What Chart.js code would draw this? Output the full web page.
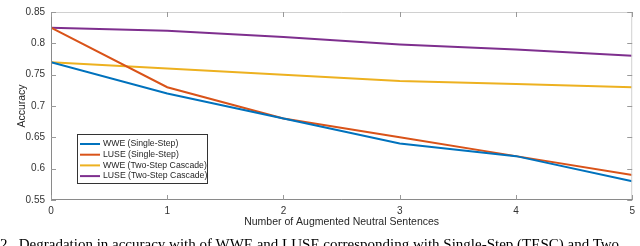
<!DOCTYPE html>
<html>
<head>
<meta charset="utf-8">
<script src="https://cdn.jsdelivr.net/npm/chart.js@4.4.1/dist/chart.umd.min.js"></script>
<style>
  html, body { margin: 0; padding: 0; background: #fff; overflow: hidden; }
  #wrap { position: relative; width: 640px; height: 246px; overflow: hidden; }
  #caption {
    position: absolute; left: 0; top: 236px; width: 640px; white-space: nowrap;
    font-family: "Liberation Serif", serif; font-size: 15px; line-height: 17px; color: #000;
  }
</style>
</head>
<body>
<div id="wrap">
  <canvas id="chart" width="640" height="246"></canvas>
  <div id="caption">2.&nbsp; Degradation in accuracy with of WWE and LUSE corresponding with Single-Step (TESC) and Two</div>
</div>
<script>
const steps = [0, 1, 2, 3, 4, 5];
const series_labels = ["WWE (Single-Step)", "LUSE (Single-Step)", "WWE (Two-Step Cascade)", "LUSE (Two-Step Cascade)"];
const wwe_single = [0.770, 0.720, 0.680, 0.640, 0.620, 0.580];
const luse_single = [0.825, 0.730, 0.680, 0.650, 0.620, 0.590];
const wwe_cascade = [0.770, 0.760, 0.750, 0.740, 0.735, 0.730];
const luse_cascade = [0.825, 0.820, 0.810, 0.798, 0.790, 0.780];
const y_ticks = [0.55, 0.6, 0.65, 0.7, 0.75, 0.8, 0.85];
const colors = ['#0072BD', '#D95319', '#EDB120', '#7E2F8E'];

const font_family = '"Liberation Sans", Arial, sans-serif';

function to_points(values) {
    return values.map((v, i) => ({ x: steps[i], y: v }));
}

// MATLAB-like box with inward ticks
const box_plugin = {
    id: 'box',
    afterDatasetsDraw(chart) {
        const ctx = chart.ctx;
        const a = chart.chartArea;
        const xs = chart.scales.x;
        const ys = chart.scales.y;
        ctx.save();
        ctx.lineWidth = 1;
        ctx.strokeStyle = '#d0d0d0';
        ctx.beginPath();
        ctx.moveTo(a.left, a.top + 0.5);
        ctx.lineTo(a.right - 0.5, a.top + 0.5);
        ctx.lineTo(a.right - 0.5, a.bottom);
        ctx.stroke();
        ctx.strokeStyle = '#8a8a8a';
        ctx.beginPath();
        ctx.moveTo(a.left + 0.5, a.top);
        ctx.lineTo(a.left + 0.5, a.bottom - 0.5);
        ctx.lineTo(a.right, a.bottom - 0.5);
        ctx.stroke();
        ctx.strokeStyle = '#999';
        ctx.beginPath();
        steps.forEach(v => {
            const px = Math.round(xs.getPixelForValue(v)) + 0.5;
            ctx.moveTo(px, a.bottom);
            ctx.lineTo(px, a.bottom - 5);
            ctx.moveTo(px, a.top);
            ctx.lineTo(px, a.top + 5);
        });
        y_ticks.forEach(v => {
            const py = Math.round(ys.getPixelForValue(v)) + 0.5;
            ctx.moveTo(a.left, py);
            ctx.lineTo(a.left + 5, py);
            ctx.moveTo(a.right, py);
            ctx.lineTo(a.right - 5, py);
        });
        ctx.stroke();
        ctx.restore();
    }
};

// legend box inside the plot, lower left
const legend_plugin = {
    id: 'inner_legend',
    afterDraw(chart) {
        const ctx = chart.ctx;
        const x0 = 77, y0 = 134, w = 130, h = 49;
        ctx.save();
        ctx.fillStyle = '#fff';
        ctx.fillRect(x0, y0, w, h);
        ctx.strokeStyle = '#333';
        ctx.lineWidth = 1;
        ctx.strokeRect(x0 + 0.5, y0 + 0.5, w, h);
        ctx.font = '8.7px ' + font_family;
        ctx.textBaseline = 'middle';
        chart.data.datasets.forEach((ds, i) => {
            const cy = y0 + 10 + i * 10.7;
            ctx.strokeStyle = ds.borderColor;
            ctx.lineWidth = 2;
            ctx.beginPath();
            ctx.moveTo(x0 + 3, cy);
            ctx.lineTo(x0 + 23, cy);
            ctx.stroke();
            ctx.fillStyle = '#262626';
            ctx.fillText(ds.label, x0 + 26, cy);
        });
        ctx.restore();
    }
};

new Chart(document.getElementById('chart'), {
    type: 'line',
    data: {
        datasets: [wwe_single, luse_single, wwe_cascade, luse_cascade].map((vals, i) => ({
            label: series_labels[i],
            data: to_points(vals),
            borderColor: colors[i],
            backgroundColor: colors[i],
            borderWidth: 2,
            pointRadius: 0,
            tension: 0
        }))
    },
    options: {
        responsive: false,
        animation: false,
        layout: { padding: { top: 4, right: 3, left: 0, bottom: 0 } },
        plugins: {
            legend: { display: false },
            tooltip: { enabled: false }
        },
        scales: {
            x: {
                type: 'linear',
                min: 0,
                max: 5,
                afterBuildTicks: (scale) => { scale.ticks = steps.map(v => ({ value: v })); },
                afterFit: (scale) => { scale.height = 46; },
                grid: { display: false, drawTicks: false },
                border: { display: false },
                ticks: {
                    padding: 5,
                    color: '#333',
                    font: { family: font_family, size: 10 },
                    maxRotation: 0
                },
                title: {
                    display: true,
                    text: 'Number of Augmented Neutral Sentences',
                    color: '#262626',
                    font: { family: font_family, size: 10.5 },
                    padding: { top: 0, bottom: 18 }
                }
            },
            y: {
                min: 0.55,
                max: 0.85,
                afterBuildTicks: (scale) => { scale.ticks = y_ticks.map(v => ({ value: v })); },
                afterFit: (scale) => { scale.width = 51; },
                grid: { display: false, drawTicks: false },
                border: { display: false },
                ticks: {
                    padding: 6,
                    color: '#333',
                    font: { family: font_family, size: 10 },
                    callback: (v) => String(+v.toFixed(2))
                },
                title: {
                    display: true,
                    text: 'Accuracy',
                    color: '#262626',
                    font: { family: font_family, size: 10.5 },
                    padding: { top: 16, bottom: 0 }
                }
            }
        }
    },
    plugins: [box_plugin, legend_plugin]
});
</script>
</body>
</html>
